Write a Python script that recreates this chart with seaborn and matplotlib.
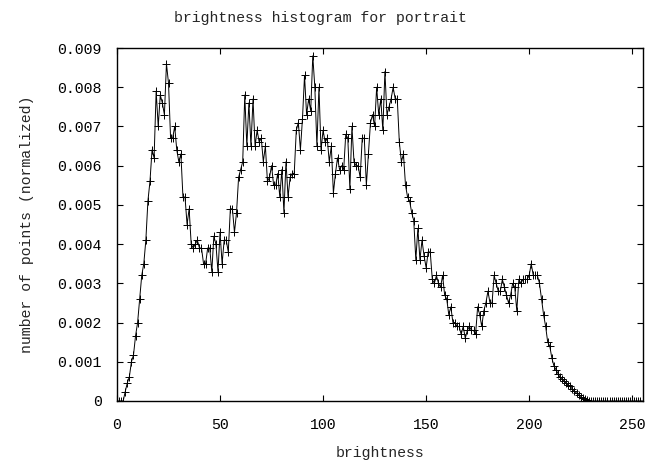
import matplotlib
matplotlib.use("Agg")
import matplotlib.pyplot as plt
import seaborn as sns
import pandas as pd

# brightness bins 0..255
brightness = list(range(256))

vals_000_040 = [0, 0, 0, 0,
    0.00024, 0.00046, 0.00062, 0.0010, 0.00117, 0.00166, 0.0020, 0.0026, 0.0032, 0.0035,
    0.0041, 0.0051, 0.0056, 0.0064, 0.0062, 0.0079, 0.0070, 0.0078, 0.0076, 0.0073,
    0.0086, 0.0081, 0.0067, 0.0067, 0.0070, 0.0064, 0.0061, 0.0063, 0.0052, 0.0052,
    0.0045, 0.0049, 0.0040, 0.0039, 0.0040, 0.0041, 0.0039]
vals_041_071 = [0.0039, 0.0035, 0.0035, 0.0039, 0.0039, 0.0033, 0.0042, 0.0040, 0.0033, 0.0043,
    0.0035, 0.0041, 0.0041, 0.0038, 0.0049, 0.0049, 0.0043, 0.0048, 0.0057, 0.0059,
    0.0061, 0.0078, 0.0065, 0.0076, 0.0065, 0.0077, 0.0065, 0.0069, 0.0066, 0.0067, 0.0061]
vals_072_100 = [0.0065, 0.0056, 0.0057, 0.0060, 0.0055, 0.0055, 0.0058, 0.0052, 0.0059, 0.0048,
    0.0061, 0.0052, 0.0057, 0.0058, 0.0058, 0.0069, 0.0071, 0.0064, 0.0072, 0.0083,
    0.0073, 0.0077, 0.0074, 0.0088, 0.0080, 0.0065, 0.0080, 0.0064, 0.0069]
vals_101_125 = [0.0066, 0.0067, 0.0061, 0.0065, 0.0053, 0.0058, 0.0062, 0.0059, 0.0060, 0.0059,
    0.0068, 0.0067, 0.0054, 0.0070, 0.0061, 0.0060, 0.0060, 0.0057, 0.0067, 0.0067,
    0.0055, 0.0063, 0.0071, 0.0073, 0.0070]
vals_126_157 = [0.0080, 0.0073, 0.0077, 0.0069, 0.0084, 0.0073, 0.0075, 0.0077, 0.0080, 0.0077,
    0.0077, 0.0066, 0.0061, 0.0063, 0.0055, 0.0052, 0.0051, 0.0048, 0.0046, 0.0036,
    0.0044, 0.0036, 0.0041, 0.0037, 0.0034, 0.0038, 0.0038, 0.0031, 0.0030, 0.0032,
    0.0030, 0.0029]
vals_158_200 = [0.0032, 0.0027, 0.0026, 0.0022, 0.0024, 0.0020, 0.0020, 0.0019, 0.0019, 0.0017,
    0.0019, 0.0016, 0.0018, 0.0019, 0.0018, 0.0018, 0.0017, 0.0024, 0.0022, 0.0019,
    0.0023, 0.0025, 0.0028, 0.0025, 0.0025, 0.0032, 0.0030, 0.0028, 0.0028, 0.0031,
    0.0029, 0.0027, 0.0025, 0.0027, 0.0030, 0.0029, 0.0023, 0.0031, 0.0030, 0.0031,
    0.0031, 0.0031, 0.0032]
vals_201_228 = [0.0035, 0.0032, 0.0032, 0.0032, 0.0030, 0.0026, 0.0022, 0.0019, 0.0015, 0.0014,
    0.0011, 0.0009, 0.0008, 0.0007, 0.0006, 0.00055, 0.0005, 0.00045, 0.0004, 0.00037,
    0.0003, 0.00025, 0.0002, 0.00015, 0.0001, 0.00007, 0.00004, 0.00002]
vals_229_255 = [0.0] * 27

points = (vals_000_040 + vals_041_071 + vals_072_100 + vals_101_125 + vals_126_157
          + vals_158_200 + vals_201_228 + vals_229_255)

x_ticks = [0, 50, 100, 150, 200, 250]
y_ticks = [0, 0.001, 0.002, 0.003, 0.004, 0.005, 0.006, 0.007, 0.008, 0.009]
y_tick_labels = ["0", "0.001", "0.002", "0.003", "0.004", "0.005", "0.006", "0.007", "0.008", "0.009"]

df = pd.DataFrame({"brightness": brightness, "points": points})

sns.set_style("ticks")
plt.rcParams["font.family"] = ["Liberation Mono", "DejaVu Sans Mono"]
FS = 10.7

fig = plt.figure(figsize=(6.53, 4.66), dpi=100)
ax = fig.add_axes([117/653, 1-401/466, (642.5-117)/653, (401-48)/466])

sns.lineplot(data=df, x="brightness", y="points", ax=ax, color="black",
             linewidth=0.7, marker="+", markersize=6, markeredgewidth=0.7,
             markeredgecolor="black", markerfacecolor="black")

ax.set_xlim(0, 255)
ax.set_ylim(0, 0.009)
ax.set_xticks(x_ticks)
ax.set_xticklabels([str(t) for t in x_ticks])
ax.set_yticks(y_ticks)
ax.set_yticklabels(y_tick_labels)
ax.tick_params(direction="in", length=4, width=0.8, top=True, right=True,
               labelsize=FS, colors="black")
ax.tick_params(axis="x", pad=12)
ax.tick_params(axis="y", pad=11)
for s in ax.spines.values():
    s.set_visible(True)
    s.set_linewidth(1.0)
    s.set_color("black")

ax.set_xlabel("brightness", fontsize=FS, labelpad=10)
ax.set_ylabel("number of points (normalized)", fontsize=FS, labelpad=17)
fig.text(320.5/653, 1-18/466, "brightness histogram for portrait", fontsize=FS,
         ha="center", va="center")

fig.savefig("out.png", dpi=100)
